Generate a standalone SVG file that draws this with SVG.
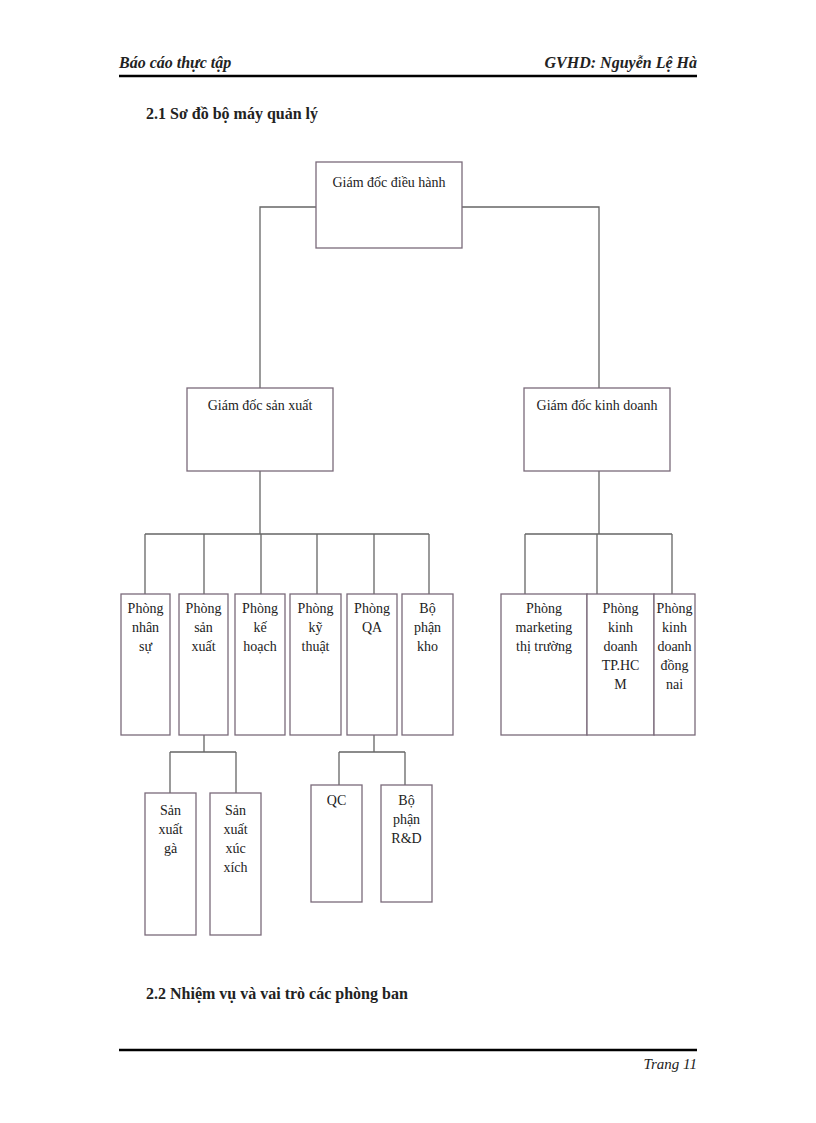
<svg xmlns="http://www.w3.org/2000/svg" width="816" height="1123" viewBox="0 0 816 1123">
<style>
.b{fill:#fff;stroke:#7a6a7a;stroke-width:1.3}
.c{fill:none;stroke:#666;stroke-width:1.3}
text{font-family:"Liberation Serif","DejaVu Serif",serif;fill:#222}
.n{font-size:14px;text-anchor:middle}
.h{font-size:16px;font-weight:bold}
.i{font-style:italic;font-weight:bold;font-size:16px}
</style>
<rect width="816" height="1123" fill="#fff"/>
<text class="i" x="119" y="68">Báo cáo thực tập</text>
<text class="i" x="697" y="68" text-anchor="end">GVHD:  Nguyễn Lệ Hà</text>
<line x1="119" y1="76" x2="697" y2="76" stroke="#000" stroke-width="2.5"/>
<text class="h" x="146" y="119">2.1 Sơ đồ bộ máy quản lý</text>
<text class="h" x="146" y="999">2.2 Nhiệm vụ và vai trò các phòng ban</text>
<line x1="119" y1="1050" x2="697" y2="1050" stroke="#000" stroke-width="2.5"/>
<text x="697" y="1069" text-anchor="end" font-style="italic" font-size="15">Trang 11</text>
<g id="connectors" class="c">
<path d="M316 207H260V388M462 207H599V388"/>
<path d="M260 471V534M145 534H429M145 534V594M204 534V594M261 534V594M317 534V594M374 534V594M429 534V594"/>
<path d="M204 735V752M170 752H236M170 752V793M236 752V793"/>
<path d="M374 735V752M339 752H405M339 752V785M405 752V785"/>
<path d="M599 471V534M525 534H672M525 534V594M597 534V594M672 534V594"/>
</g>
<g id="gd"><rect class="b" x="316" y="162" width="146" height="86"/><text class="n" x="389" y="187">Giám đốc điều hành</text></g>
<g id="gdsx"><rect class="b" x="187" y="388" width="146" height="83"/><text class="n" x="260" y="410">Giám đốc sản xuất</text></g>
<g id="gdkd"><rect class="b" x="524" y="388" width="146" height="83"/><text class="n" x="597" y="410">Giám đốc kinh doanh</text></g>
<g id="ns"><rect class="b" x="121" y="594" width="49" height="141"/><text class="n" x="145.5" y="613">Phòng<tspan x="145.5" dy="19">nhân</tspan><tspan x="145.5" dy="19">sự</tspan></text></g>
<g id="sx"><rect class="b" x="179" y="594" width="49" height="141"/><text class="n" x="203.5" y="613">Phòng<tspan x="203.5" dy="19">sản</tspan><tspan x="203.5" dy="19">xuất</tspan></text></g>
<g id="kh"><rect class="b" x="235" y="594" width="50" height="141"/><text class="n" x="260" y="613">Phòng<tspan x="260" dy="19">kế</tspan><tspan x="260" dy="19">hoạch</tspan></text></g>
<g id="kt"><rect class="b" x="290" y="594" width="51" height="141"/><text class="n" x="315.5" y="613">Phòng<tspan x="315.5" dy="19">kỹ</tspan><tspan x="315.5" dy="19">thuật</tspan></text></g>
<g id="qa"><rect class="b" x="347" y="594" width="50" height="141"/><text class="n" x="372" y="613">Phòng<tspan x="372" dy="19">QA</tspan></text></g>
<g id="kho"><rect class="b" x="402" y="594" width="51" height="141"/><text class="n" x="427.5" y="613">Bộ<tspan x="427.5" dy="19">phận</tspan><tspan x="427.5" dy="19">kho</tspan></text></g>
<g id="mkt"><rect class="b" x="501" y="594" width="86" height="141"/><text class="n" x="544" y="613">Phòng<tspan x="544" dy="19">marketing</tspan><tspan x="544" dy="19">thị trường</tspan></text></g>
<g id="hcm"><rect class="b" x="587" y="594" width="67" height="141"/><text class="n" x="620.5" y="613">Phòng<tspan x="620.5" dy="19">kinh</tspan><tspan x="620.5" dy="19">doanh</tspan><tspan x="620.5" dy="19">TP.HC</tspan><tspan x="620.5" dy="19">M</tspan></text></g>
<g id="dn"><rect class="b" x="654" y="594" width="41" height="141"/><text class="n" x="674.5" y="613" font-size="13">Phòng<tspan x="674.5" dy="19">kinh</tspan><tspan x="674.5" dy="19">doanh</tspan><tspan x="674.5" dy="19">đồng</tspan><tspan x="674.5" dy="19">nai</tspan></text></g>
<g id="ga"><rect class="b" x="145" y="793" width="51" height="142"/><text class="n" x="170.5" y="815">Sản<tspan x="170.5" dy="19">xuất</tspan><tspan x="170.5" dy="19">gà</tspan></text></g>
<g id="xx"><rect class="b" x="210" y="793" width="51" height="142"/><text class="n" x="235.5" y="815">Sản<tspan x="235.5" dy="19">xuất</tspan><tspan x="235.5" dy="19">xúc</tspan><tspan x="235.5" dy="19">xích</tspan></text></g>
<g id="qc"><rect class="b" x="311" y="785" width="51" height="117"/><text class="n" x="336.5" y="805">QC</text></g>
<g id="rd"><rect class="b" x="381" y="785" width="51" height="117"/><text class="n" x="406.5" y="805">Bộ<tspan x="406.5" dy="19">phận</tspan><tspan x="406.5" dy="19">R&amp;D</tspan></text></g>
</svg>
